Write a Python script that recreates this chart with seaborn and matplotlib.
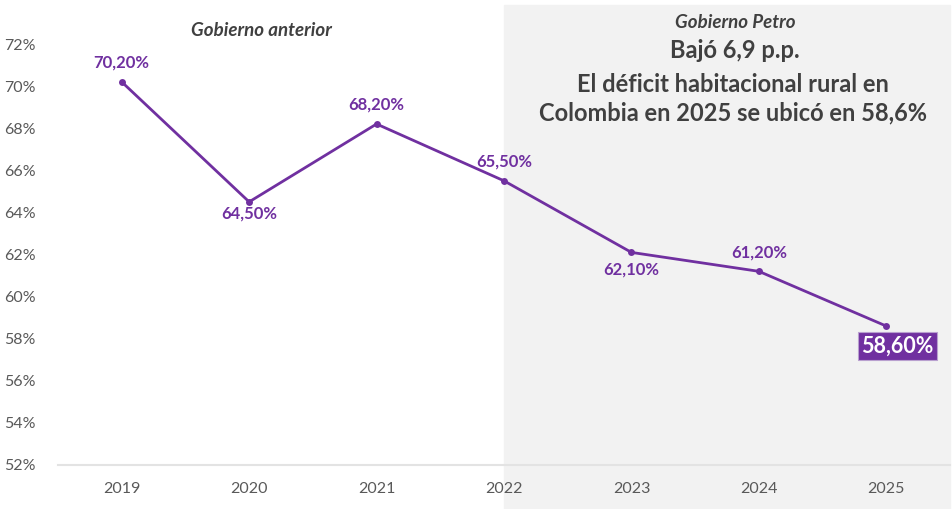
import matplotlib
matplotlib.use("Agg")
import matplotlib.pyplot as plt
import seaborn as sns
import pandas as pd
from matplotlib.patches import Rectangle

# data
years = ["2019", "2020", "2021", "2022", "2023", "2024", "2025"]
deficit = [70.2, 64.5, 68.2, 65.5, 62.1, 61.2, 58.6]
labels = ["70,20%", "64,50%", "68,20%", "65,50%", "62,10%", "61,20%", "58,60%"]
yticks = [52, 54, 56, 58, 60, 62, 64, 66, 68, 70, 72]

df = pd.DataFrame({"year": years, "deficit": deficit})

sns.set_style("white")
plt.rcParams["font.family"] = ["Lato", "DejaVu Sans"]

purple = "#7030a0"
grey_txt = "#404040"

fig = plt.figure(figsize=(9.53, 5.09), dpi=100)
ax = fig.add_axes([58 / 953, 1 - 465 / 509, (950 - 58) / 953, (465 - 44) / 509])
ax.set_facecolor("none")

# shaded area for the current government (drawn in figure coords, behind the axes)
fig.patches.append(Rectangle((504 / 953, 0), (950 - 504) / 953, 1 - 5 / 509,
                             transform=fig.transFigure, color="#f2f2f2", zorder=-10))

sns.lineplot(data=df, x="year", y="deficit", ax=ax, color=purple, lw=2,
             marker="o", markersize=5, markeredgewidth=0, sort=False)

ax.set_xlim(-0.5, 6.5)
ax.set_ylim(52, 72)
ax.set_yticks(yticks)
ax.set_yticklabels([f"{t}%" for t in yticks])
ax.set_xlabel("")
ax.set_ylabel("")
for s in ["top", "right", "left"]:
    ax.spines[s].set_visible(False)
ax.spines["bottom"].set_color("#e3e3e3")
ax.spines["bottom"].set_linewidth(1.5)
ax.tick_params(axis="both", length=0, labelsize=11.5, labelcolor="#595959")
ax.tick_params(axis="y", pad=16)
ax.tick_params(axis="x", pad=12)

# data labels: offsets in pixels (above/below)
offsets = [(0, 19), (0, -12), (0, 19), (0, 19), (0, -17), (0, 19), (11, -20)]
for i, (lab, off) in enumerate(zip(labels, offsets)):
    if i == len(labels) - 1:
        ax.annotate(lab, (i, deficit[i]), xytext=off, textcoords="offset pixels",
                    ha="center", va="center", fontsize=15.5, fontweight="bold",
                    color="white",
                    bbox=dict(boxstyle="square,pad=0.15", fc=purple, ec="#b9a0cf", lw=0.8))
    else:
        ax.annotate(lab, (i, deficit[i]), xytext=off, textcoords="offset pixels",
                    ha="center", va="center", fontsize=12, fontweight="bold",
                    color=purple)

fig.text(261 / 953, 1 - 30 / 509, "Gobierno anterior", ha="center", va="center",
         fontsize=13.5, fontweight="bold", style="italic", color=grey_txt)
fig.text(735 / 953, 1 - 22 / 509, "Gobierno Petro", ha="center", va="center",
         fontsize=13.5, fontweight="bold", style="italic", color=grey_txt)
fig.text(735 / 953, 1 - 50 / 509, "Bajó 6,9 p.p.", ha="center", va="center",
         fontsize=17, fontweight="bold", color=grey_txt)
fig.text(733 / 953, 1 - 99 / 509,
         "El déficit habitacional rural en\nColombia en 2025 se ubicó en 58,6%",
         ha="center", va="center", fontsize=17, fontweight="bold", color=grey_txt,
         linespacing=1.3)

fig.savefig("out.png", dpi=100, facecolor="white")
